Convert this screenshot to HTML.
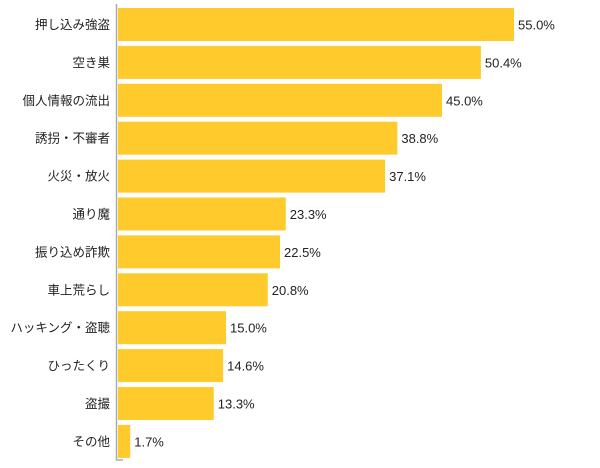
<!DOCTYPE html>
<html><head><meta charset="utf-8"><style>
body{margin:0;background:#fff;width:600px;height:468px;overflow:hidden}
svg{display:block;font-family:"Liberation Sans","Noto Sans CJK JP",sans-serif}
</style></head><body>
<svg id="chart" width="600" height="468"></svg>
<script>
const categories=["押し込み強盗","空き巣","個人情報の流出","誘拐・不審者","火災・放火","通り魔","振り込め詐欺","車上荒らし","ハッキング・盗聴","ひったくり","盗撮","その他"];
const values=[55.0,50.4,45.0,38.8,37.1,23.3,22.5,20.8,15.0,14.6,13.3,1.7];
const ns="http://www.w3.org/2000/svg";
const svg=document.getElementById('chart');
const x0=118, pxPer=(514-118)/55, top0=8, pitch=37.9, bh=33;
const xs=v=>x0+v*pxPer;
const ys=i=>top0+i*pitch;
function mk(t,a){const e=document.createElementNS(ns,t);for(const k in a)e.setAttribute(k,a[k]);svg.appendChild(e);return e;}
categories.forEach((c,i)=>{
  const r=mk('rect',{x:x0,y:ys(i),width:xs(values[i])-x0,height:bh,fill:'#FFCA2C'});
  
  
  const l=mk('text',{x:110,y:ys(i)+bh/2+4.5,'text-anchor':'end','font-size':'12.5',fill:'#222'});
  l.textContent=c;
  
  
  const v=mk('text',{x:xs(values[i])+4,y:ys(i)+bh/2+5,'font-size':'13',fill:'#222'});
  v.textContent=values[i].toFixed(1)+'%';
  
  
});
const ax=mk('line',{x1:116.5,y1:4,x2:116.5,y2:460,stroke:'#aaa','stroke-width':1.5});


const bx=mk('line',{x1:116,y1:460,x2:123,y2:460,stroke:'#aaa','stroke-width':1.5});


</script>
</body></html>
